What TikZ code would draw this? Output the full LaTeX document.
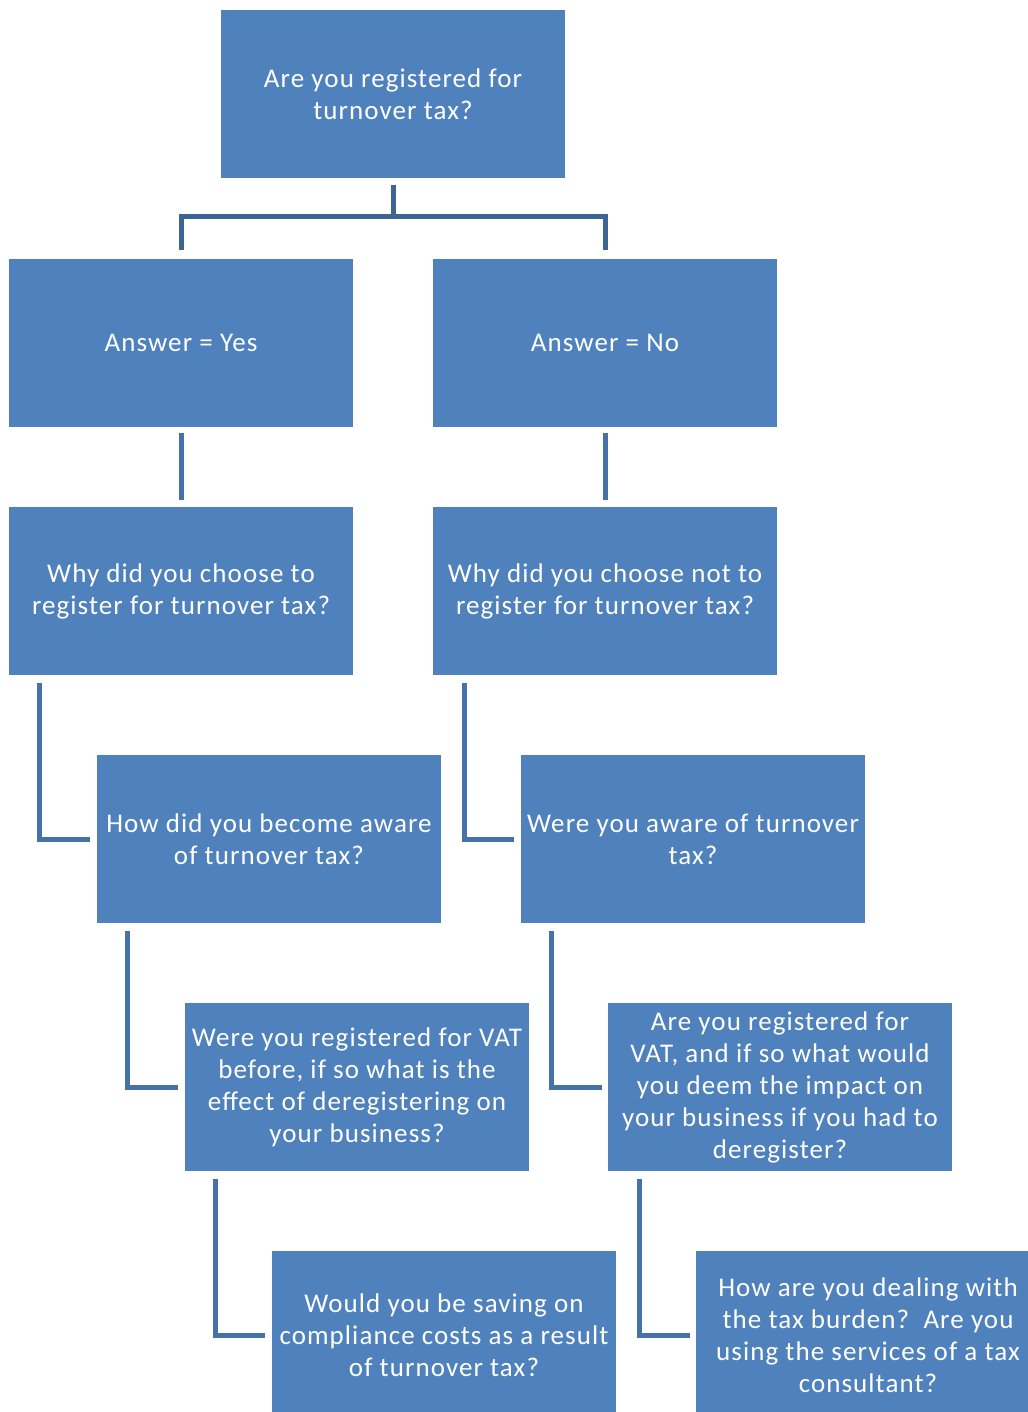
\documentclass[tikz,border=0pt]{standalone}
\usepackage{fontspec}
\setmainfont{Carlito}[LetterSpace=4]
\usepackage{tikz}
\definecolor{boxblue}{HTML}{4F81BD}
\definecolor{linkblue}{HTML}{4672AA}
\definecolor{topblue}{HTML}{3C6594}

\begin{document}
\begin{tikzpicture}[x=1pt,y=1pt]
\useasboundingbox (0,0) rectangle (1027,-1412);
\tikzstyle{QBox}=[fill=boxblue,text=white,minimum width=344pt,minimum height=168pt,
  inner sep=0pt,align=center,font=\fontsize{27pt}{32pt}\selectfont]
\tikzstyle{EdgeStyle}=[linkblue,line width=5pt]
\tikzstyle{TopEdge}=[topblue,line width=5pt]

\node[QBox] (top) at (393,-94) {Are you registered for\\turnover tax?};

\node[QBox] (yes) at (181,-343) {Answer = Yes};
\node[QBox] (no) at (605,-343) {Answer = No};

\node[QBox] (whyyes) at (181,-591) {Why did you choose to\\register for turnover tax?};
\node[QBox] (whyno) at (605,-591) {Why did you choose not to\\register for turnover tax?};

\node[QBox] (aware) at (269,-839) {How did you become aware\\of turnover tax?};
\node[QBox] (awareno) at (693,-839) {Were you aware of turnover\\tax?};

\node[QBox] (vat) at (357,-1087) {Were you registered for VAT\\before, if so what is the\\effect of deregistering on\\your business?};
\node[QBox] (vatno) at (780,-1087) {Are you registered for\\VAT, and if so what would\\you deem the impact on\\your business if you had to\\deregister?};

\node[QBox] (saving) at (444,-1335) {Would you be saving on\\compliance costs as a result\\of turnover tax?};
\node[QBox] (burden) at (868,-1335) {How are you dealing with\\the tax burden?~~Are you\\using the services of a tax\\consultant?};

% split below the first question
\draw[TopEdge] ([yshift=-7pt]top.south) -- ++(0,-31) coordinate (fork);
\draw[TopEdge] (fork) -| ([yshift=9pt]yes.north);
\draw[TopEdge] (fork) -| ([yshift=9pt]no.north);

\draw[EdgeStyle] ([yshift=-6pt]yes.south) -- ([yshift=7pt]whyyes.north);
\draw[EdgeStyle] ([yshift=-6pt]no.south) -- ([yshift=7pt]whyno.north);

% elbows down the two columns
\draw[EdgeStyle] ([xshift=31pt,yshift=-8pt]whyyes.south west) |- ([xshift=-7pt]aware.west);
\draw[EdgeStyle] ([xshift=32pt,yshift=-8pt]whyno.south west) |- ([xshift=-7pt]awareno.west);
\draw[EdgeStyle] ([xshift=31pt,yshift=-8pt]aware.south west) |- ([xshift=-7pt]vat.west);
\draw[EdgeStyle] ([xshift=31pt,yshift=-8pt]awareno.south west) |- ([xshift=-6pt]vatno.west);
\draw[EdgeStyle] ([xshift=31pt,yshift=-8pt]vat.south west) |- ([xshift=-7pt]saving.west);
\draw[EdgeStyle] ([xshift=32pt,yshift=-8pt]vatno.south west) |- ([xshift=-6pt]burden.west);

\end{tikzpicture}
\end{document}
